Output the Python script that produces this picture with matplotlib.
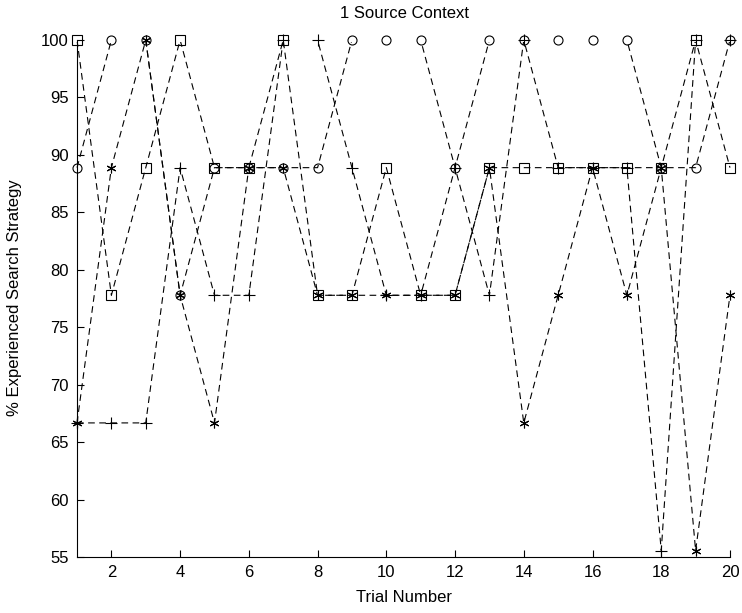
import numpy as np
import matplotlib
matplotlib.use("Agg")
import matplotlib.pyplot as plt
from matplotlib.patches import Rectangle

plt.rcParams['font.family'] = ['Liberation Sans', 'DejaVu Sans']

trials = np.arange(1, 21)

# % experienced search strategy per trial, one list per marker
circle_vals = [88.89, 100, 100, 77.78, 88.89, 88.89, 88.89, 88.89, 100, 100,
               100, 88.89, 100, 100, 100, 100, 100, 88.89, 88.89, 100]
plus_vals = [66.67, 66.67, 66.67, 88.89, 77.78, 77.78, 100, 100, 88.89, 77.78,
             77.78, 88.89, 77.78, 100, 88.89, 88.89, 88.89, 55.56, 100, 100]
star_vals = [66.67, 88.89, 100, 77.78, 66.67, 88.89, 88.89, 77.78, 77.78, 77.78,
             77.78, 77.78, 88.89, 66.67, 77.78, 88.89, 77.78, 88.89, 55.56, 77.78]
square_vals = [100, 77.78, 88.89, 100, 88.89, 88.89, 100, 77.78, 77.78, 88.89,
               77.78, 77.78, 88.89, 88.89, 88.89, 88.89, 88.89, 88.89, 100, 88.89]

xticks = list(range(2, 21, 2))
yticks = list(range(55, 101, 5))

fig = plt.figure(figsize=(7.42, 6.13), dpi=100)
ax = fig.add_axes([0.1038, 0.0914, 0.88, 0.8433])

# lines sitting right on the top limit get clipped away, like in the original
clip = Rectangle((0, 50), 25, 49.85, transform=ax.transData,
                 facecolor='none', edgecolor='none')
ax.add_patch(clip)

series = [
    (circle_vals, dict(marker='o', ms=6.5, mfc='none')),
    (plus_vals, dict(marker='+', ms=8.5)),
    (star_vals, dict(marker=(6, 2, 0), ms=7)),
    (square_vals, dict(marker='s', ms=7, mfc='none')),
]
for vals, mk in series:
    ln, = ax.plot(trials, vals, color='black', lw=0.8, ls=(0, (6, 4)))
    ln.set_clip_path(clip)
    ax.plot(trials, vals, ls='none', color='black', mec='black', mew=0.8,
            clip_on=False, **mk)

ax.set_xlim(1, 20)
ax.set_ylim(55, 100)
ax.set_xticks(xticks)
ax.set_yticks(yticks)
ax.tick_params(direction='in', length=5, width=0.8, labelsize=12, pad=6)
ax.spines['top'].set_visible(False)
ax.spines['right'].set_visible(False)
ax.spines['left'].set_linewidth(0.8)
ax.spines['bottom'].set_linewidth(0.8)

fig.text(404 / 742, 1 - 13 / 613, '1 Source Context', ha='center', va='center', fontsize=12)
fig.text(404 / 742, 1 - 598 / 613, 'Trial Number', ha='center', va='center', fontsize=12)
fig.text(15 / 742, 1 - 298 / 613, '% Experienced Search Strategy', ha='center', va='center',
         rotation=90, fontsize=12)

fig.savefig('out.png', dpi=100)
